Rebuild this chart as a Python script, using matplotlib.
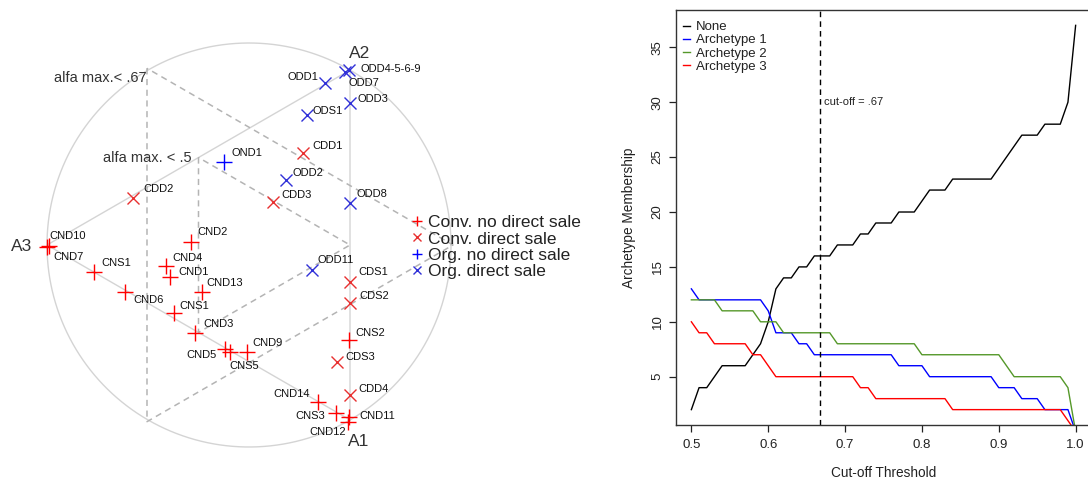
import numpy as np
import matplotlib
matplotlib.use('Agg')
import matplotlib.pyplot as plt
from matplotlib.lines import Line2D

plt.rcParams['font.family'] = ['Liberation Sans', 'DejaVu Sans']

# ---------------- left panel data (archetype space, unit-circle coordinates)
names = ['ODD4-5-6-9', 'ODD7', 'ODD1', 'ODD3', 'ODS1', 'CDD1', 'OND1', 'ODD2',
         'CDD3', 'ODD8', 'CDD2', 'CND10', 'CND7', 'CNS1', 'CND6', 'CND2', 'CND4',
         'CND1', 'CND13', 'CNS1', 'CND3', 'CND5', 'CNS5', 'CND9', 'ODD11', 'CDS1',
         'CDS2', 'CNS2', 'CDS3', 'CDD4', 'CND14', 'CNS3', 'CND11', 'CND12']
xs = [0.497, 0.475, 0.376, 0.500, 0.286, 0.267, -0.124, 0.183,
      0.119, 0.500, -0.574, -1.000, -0.989, -0.767, -0.614, -0.287, -0.411,
      -0.391, -0.233, -0.371, -0.267, -0.119, -0.094, -0.010, 0.312, 0.500,
      0.500, 0.495, 0.436, 0.500, 0.343, 0.431, 0.495, 0.492]
ys = [0.866, 0.855, 0.800, 0.703, 0.644, 0.455, 0.411, 0.322,
      0.213, 0.208, 0.233, -0.008, -0.003, -0.134, -0.233, 0.015, -0.104,
      -0.158, -0.233, -0.337, -0.436, -0.515, -0.530, -0.530, -0.124, -0.183,
      -0.287, -0.470, -0.579, -0.743, -0.776, -0.830, -0.853, -0.875]
groups = ['OD', 'OD', 'OD', 'OD', 'OD', 'CD', 'ON', 'OD',
          'CD', 'OD', 'CD', 'CN', 'CN', 'CN', 'CN', 'CN', 'CN',
          'CN', 'CN', 'CN', 'CN', 'CN', 'CN', 'CN', 'OD', 'CD',
          'CD', 'CN', 'CD', 'CD', 'CN', 'CN', 'CN', 'CN']
group_labels = {'CN': 'Conv. no direct sale', 'CD': 'Conv. direct sale',
                'ON': 'Org. no direct sale', 'OD': 'Org. direct sale'}
vertex_names = ['A1', 'A2', 'A3']
vertex_x = [0.5, 0.5, -1.0]
vertex_y = [-0.866, 0.866, 0.0]
alpha_levels = [0.67, 0.5]
alpha_texts = ['alfa max.< .67', 'alfa max. < .5']

# ---------------- right panel data
thresholds = [0.50, 0.51, 0.52, 0.53, 0.54, 0.55, 0.56, 0.57, 0.58, 0.59,
              0.60, 0.61, 0.62, 0.63, 0.64, 0.65, 0.66, 0.67, 0.68, 0.69,
              0.70, 0.71, 0.72, 0.73, 0.74, 0.75, 0.76, 0.77, 0.78, 0.79,
              0.80, 0.81, 0.82, 0.83, 0.84, 0.85, 0.86, 0.87, 0.88, 0.89,
              0.90, 0.91, 0.92, 0.93, 0.94, 0.95, 0.96, 0.97, 0.98, 0.99, 1.00]
none_cnt = [2, 4, 4, 5, 6, 6, 6, 6, 7, 8, 10, 13, 14, 14, 15, 15, 16, 16, 16, 17,
            17, 17, 18, 18, 19, 19, 19, 20, 20, 20, 21, 22, 22, 22, 23, 23, 23, 23,
            23, 23, 24, 25, 26, 27, 27, 27, 28, 28, 28, 30, 37]
arch1_cnt = [13, 12, 12, 12, 12, 12, 12, 12, 12, 12, 11, 9, 9, 9, 8, 8, 7, 7, 7, 7,
             7, 7, 7, 7, 7, 7, 7, 6, 6, 6, 6, 5, 5, 5, 5, 5, 5, 5, 5, 5, 4, 4, 4,
             3, 3, 3, 2, 2, 2, 2, 0]
arch2_cnt = [12, 12, 12, 12, 11, 11, 11, 11, 11, 10, 10, 10, 9, 9, 9, 9, 9, 9, 9, 8,
             8, 8, 8, 8, 8, 8, 8, 8, 8, 8, 7, 7, 7, 7, 7, 7, 7, 7, 7, 7, 7, 6, 5,
             5, 5, 5, 5, 5, 5, 4, 0]
arch3_cnt = [10, 9, 9, 8, 8, 8, 8, 8, 7, 7, 6, 5, 5, 5, 5, 5, 5, 5, 5, 5,
             5, 5, 4, 4, 3, 3, 3, 3, 3, 3, 3, 3, 3, 3, 2, 2, 2, 2, 2, 2, 2, 2, 2,
             2, 2, 2, 2, 2, 2, 1, 0]
series_names = ['None', 'Archetype 1', 'Archetype 2', 'Archetype 3']
cutoff = 0.667

# ---------------- layout / style
label_offsets = [(11, 1), (4, -11), (-7, 6), (8, 4), (6, 4), (9, 7), (8, 9), (7, 7),
                 (8, 7), (7, 9), (10, 9), (2, 11), (4, -11), (7, 9), (8, -8), (6, 10),
                 (6, 8), (8, 5), (4, 9), (5, 7), (8, 9), (-8, -6), (-1, -14), (5, 9),
                 (5, 10), (8, 10), (9, 7), (6, 7), (8, 5), (8, 6), (-8, 8), (-11, -3),
                 (10, 1), (-2, -10)]
style = {'CN': dict(marker='+', color='#ff0000', ms=11),
         'CD': dict(marker='x', color='#e83030', ms=8),
         'ON': dict(marker='+', color='#0000ff', ms=11),
         'OD': dict(marker='x', color='#3030d8', ms=8)}
vertex_offsets = [(9, -22), (10, 17), (-25, -2)]
grey = '#d4d4d4'
dgrey = '#b4b4b4'

fig = plt.figure(figsize=(10.88, 4.80), dpi=100)

# ================= left panel
ax1 = fig.add_axes([0, 0, 609 / 1088, 1])
ax1.set_xlim(-1.2327, 1.7822)
ax1.set_ylim(-1.1634, 1.2129)
ax1.axis('off')

th = np.linspace(0, 2 * np.pi, 400)
ax1.plot(np.cos(th), np.sin(th), color=grey, lw=1.0, zorder=1)

V = np.array([vertex_x, vertex_y]).T  # A1, A2, A3
tri = np.vstack([V, V[:1]])
ax1.plot(tri[:, 0], tri[:, 1], color=grey, lw=1.0, zorder=1)

for lvl, txt in zip(alpha_levels, alpha_texts):
    # vertices where two archetype weights equal lvl
    p23 = lvl * V[1] + lvl * V[2] + (1 - 2 * lvl) * V[0]
    p13 = lvl * V[0] + lvl * V[2] + (1 - 2 * lvl) * V[1]
    p12 = lvl * V[0] + lvl * V[1] + (1 - 2 * lvl) * V[2]
    P = np.array([p23, p13, p12, p23])
    ax1.plot(P[:, 0], P[:, 1], color=dgrey, lw=1.1, ls=(0, (4, 3)), zorder=1)
    off = (0, -10) if lvl > 0.6 else (-7, 0)
    ax1.annotate(txt, xy=p23, xytext=off, textcoords='offset pixels',
                 ha='right', va='center', fontsize=10.5, color='#333333')

for nm, vx, vy, off in zip(vertex_names, vertex_x, vertex_y, vertex_offsets):
    ax1.annotate(nm, xy=(vx, vy), xytext=off, textcoords='offset pixels',
                 ha='center', va='center', fontsize=12.5, color='#333333')

for g in ['CN', 'CD', 'ON', 'OD']:
    gx = [x for x, gg in zip(xs, groups) if gg == g]
    gy = [y for y, gg in zip(ys, groups) if gg == g]
    s = style[g]
    ax1.plot(gx, gy, ls='none', marker=s['marker'], color=s['color'],
             ms=s['ms'], mew=1.0, zorder=3)

for nm, x, y, off in zip(names, xs, ys, label_offsets):
    ha = 'right' if off[0] < 0 and nm not in ('CNS5',) else 'left'
    if nm == 'CND12':
        ha = 'right'
    ax1.annotate(nm, xy=(x, y), xytext=off, textcoords='offset pixels',
                 ha=ha, va='center', fontsize=8, color='#111111', zorder=4)

handles = [Line2D([], [], ls='none', marker=style[g]['marker'], color=style[g]['color'],
                  ms=7 if style[g]['marker'] == '+' else 5.5, mew=1.0)
           for g in ['CN', 'CD', 'ON', 'OD']]
leg1 = ax1.legend(handles, [group_labels[g] for g in ['CN', 'CD', 'ON', 'OD']],
                  loc='upper left', bbox_to_anchor=(412 / 1088, 1 - 215 / 480),
                  bbox_transform=fig.transFigure, frameon=False, fontsize=12.5,
                  handlelength=0.6, handletextpad=0.35, labelspacing=0.07,
                  borderpad=0, borderaxespad=0)
for t in leg1.get_texts():
    t.set_color('#222222')

# ================= right panel
ax2 = fig.add_axes([676 / 1088, 55 / 480, 415 / 1088, 415 / 480])
cols = ['#000000', '#0000ff', '#55982a', '#ff0000']
for vals, c, nm in zip([none_cnt, arch1_cnt, arch2_cnt, arch3_cnt], cols, series_names):
    ax2.plot(thresholds, vals, color=c, lw=1.0, label=nm)
ax2.axvline(cutoff, color='black', lw=1.0, ls=(0, (4, 3)))
ax2.annotate('cut-off = .67', xy=(cutoff, 30), xytext=(4, 0), textcoords='offset pixels',
             ha='left', va='center', fontsize=8, color='#222222')
ax2.set_xlim(0.48, 1.02)
ax2.set_ylim(0.6, 38.4)
ax2.set_xticks([0.5, 0.6, 0.7, 0.8, 0.9, 1.0])
ax2.set_xticklabels(['0.5', '0.6', '0.7', '0.8', '0.9', '1.0'])
ax2.set_yticks([5, 10, 15, 20, 25, 30, 35])
ax2.tick_params(axis='both', direction='out', length=5, width=0.9, labelsize=9.5,
                colors='#222222')
ax2.tick_params(axis='x', pad=5)
ax2.tick_params(axis='y', pad=4)
for lab in ax2.get_yticklabels():
    lab.set_rotation(90)
    lab.set_va('center')
for sp in ax2.spines.values():
    sp.set_linewidth(1.0)
    sp.set_color('#333333')
ax2.set_xlabel('Cut-off Threshold', fontsize=9.8, color='#222222', labelpad=11)
ax2.set_ylabel('Archetype Membership', fontsize=9.8, color='#222222', labelpad=11)
leg2 = ax2.legend(loc='upper left', bbox_to_anchor=(683 / 1088, 1 - 21 / 480),
                  bbox_transform=fig.transFigure, frameon=False, fontsize=9.5,
                  handlelength=0.55, handletextpad=0.45, labelspacing=0.07,
                  borderpad=0, borderaxespad=0)
for t in leg2.get_texts():
    t.set_color('#222222')

fig.savefig('out.png', dpi=100)
